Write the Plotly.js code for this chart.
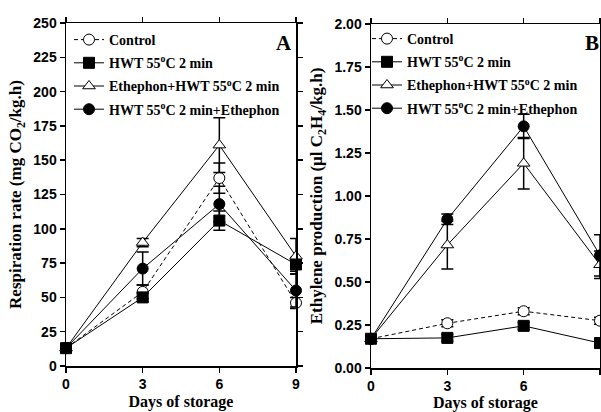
<!DOCTYPE html>
<html>
<head>
<meta charset="utf-8">
<script src="https://cdn.plot.ly/plotly-3.0.1.min.js"></script>
<style>html,body{margin:0;padding:0;background:#fff;}#chart{width:601px;height:412px;}</style>
</head>
<body>
<div id="chart"></div>
<script>
// ---- data ----
const days = [0, 3, 6, 9];
const seriesNames = ["Control", "HWT 55<sup>o</sup>C 2 min", "Ethephon+HWT 55<sup>o</sup>C 2 min", "HWT 55<sup>o</sup>C 2 min+Ethephon"];

// Panel A: respiration rate (mg CO2/kg.h)
const respControl = [13, 54, 137, 46];
const respControlErr = [2, 5, 11, 4];
const respHWT = [13, 50, 106, 74];
const respHWTErr = [2, 3, 7, 5];
const respEthHWT = [13, 90, 161, 80];
const respEthHWTErr = [2, 3, 20, 13];
const respHWTEth = [13, 71, 118, 55];
const respHWTEthErr = [2, 12, 13, 12];

// Panel B: ethylene production (µl C2H4/kg.h)
const ethControl = [0.17, 0.26, 0.33, 0.275];
const ethControlErr = [0.02, 0.02, 0.02, 0.02];
const ethHWT = [0.17, 0.175, 0.245, 0.145];
const ethHWTErr = [0.02, 0.02, 0.02, 0.02];
const ethEthHWT = [0.17, 0.715, 1.19, 0.60];
const ethEthHWTErr = [0.02, 0.14, 0.15, 0.08];
const ethHWTEth = [0.17, 0.865, 1.405, 0.655];
const ethHWTEthErr = [0.02, 0.03, 0.07, 0.12];

const xTicks = [0, 3, 6, 9];
const yTicksA = [0, 25, 50, 75, 100, 125, 150, 175, 200, 225, 250];
const yTicksB = [0, 0.25, 0.5, 0.75, 1.0, 1.25, 1.5, 1.75, 2.0];

// ---- styles ----
const styles = [
  {symbol: "circle", fill: "#ffffff", dash: "4px,3px"},
  {symbol: "square", fill: "#000000", dash: "solid"},
  {symbol: "triangle-up", fill: "#ffffff", dash: "solid"},
  {symbol: "circle", fill: "#000000", dash: "solid"}
];

function mk(i, y, err, xa, ya, leg) {
  const s = styles[i];
  return {
    x: days, y: y, type: "scatter", mode: "lines+markers",
    name: seriesNames[i], xaxis: xa, yaxis: ya, legend: leg,
    legendgroup: leg + i,
    cliponaxis: false,
    line: {color: "#000", width: 1, dash: s.dash},
    marker: {symbol: s.symbol, size: 11, color: s.fill, line: {color: "#000", width: 1}},
    error_y: {type: "data", array: err, visible: true, color: "#000", thickness: 1.5, width: 6}
  };
}

const data = [
  mk(0, respControl, respControlErr, "x", "y", "legend"),
  mk(1, respHWT, respHWTErr, "x", "y", "legend"),
  mk(2, respEthHWT, respEthHWTErr, "x", "y", "legend"),
  mk(3, respHWTEth, respHWTEthErr, "x", "y", "legend"),
  mk(0, ethControl, ethControlErr, "x2", "y2", "legend2"),
  mk(1, ethHWT, ethHWTErr, "x2", "y2", "legend2"),
  mk(2, ethEthHWT, ethEthHWTErr, "x2", "y2", "legend2"),
  mk(3, ethHWTEth, ethHWTEthErr, "x2", "y2", "legend2")
];

const tickFont = {family: "Liberation Sans, Arial", size: 14, color: "#000", weight: "bold"};
const xTitleFont = {family: "Liberation Serif, Times New Roman", size: 16, color: "#000", weight: "bold"};
const yTitleFont = {family: "Liberation Serif, Times New Roman", size: 17, color: "#000", weight: "bold"};
const legFont = {family: "Liberation Serif, Times New Roman", size: 14, color: "#000", weight: "bold"};

function xax(domain, anchor) {
  return {
    domain: domain, anchor: anchor, range: [0, 9], tickvals: xTicks, ticktext: xTicks.map(String),
    showgrid: false, zeroline: false, showline: true, linecolor: "#000", linewidth: 1.5,
    mirror: "ticks", ticks: "outside", ticklen: 5, tickwidth: 1.5, tickcolor: "#000",
    tickfont: tickFont, automargin: false,
    title: {text: "Days of storage", font: xTitleFont, standoff: 4}
  };
}
function yax(domain, anchor, range, vals, fmt, title) {
  return {
    domain: domain, anchor: anchor, range: range, tickvals: vals, ticktext: vals.map(fmt),
    showgrid: false, zeroline: false, showline: true, linecolor: "#000", linewidth: 1.5,
    mirror: "ticks", ticks: "outside", ticklen: 5, tickwidth: 1.5, tickcolor: "#000",
    tickfont: tickFont, automargin: false,
    title: {text: title, font: yTitleFont, standoff: 7}
  };
}

const layout = {
  width: 601, height: 412,
  margin: {l: 0, r: 0, t: 0, b: 0},
  paper_bgcolor: "#fff", plot_bgcolor: "#fff",
  showlegend: true,
  xaxis: xax([66/601, 296/601], "y"),
  yaxis: yax([46/412, 389/412], "x", [0, 250], yTicksA, v => String(v), "Respiration rate (mg CO<sub>2</sub>/kg.h)"),
  xaxis2: xax([371/601, 600/601], "y2"),
  yaxis2: yax([44/412, 388/412], "x2", [0, 2], yTicksB, v => v.toFixed(2), "Ethylene production (µl C<sub>2</sub>H<sub>4</sub>/kg.h)"),
  legend: {x: 69/601, y: 1 - 24/412, xanchor: "left", yanchor: "top", bgcolor: "rgba(0,0,0,0)",
           font: legFont, tracegroupgap: 2, itemwidth: 30},
  legend2: {x: 367/601, y: 1 - 23/412, xanchor: "left", yanchor: "top", bgcolor: "rgba(0,0,0,0)",
           font: legFont, tracegroupgap: 2, itemwidth: 30},
  annotations: [
    {text: "A", xref: "paper", yref: "paper", x: 284/601, y: 1 - 43/412, xanchor: "center", yanchor: "middle",
     showarrow: false, font: {family: "Liberation Serif, Times New Roman", size: 21, color: "#000", weight: "bold"}},
    {text: "B", xref: "paper", yref: "paper", x: 592/601, y: 1 - 43/412, xanchor: "center", yanchor: "middle",
     showarrow: false, font: {family: "Liberation Serif, Times New Roman", size: 21, color: "#000", weight: "bold"}}
  ]
};

Plotly.newPlot("chart", data, layout, {displayModeBar: false, staticPlot: true});
</script>
</body>
</html>
